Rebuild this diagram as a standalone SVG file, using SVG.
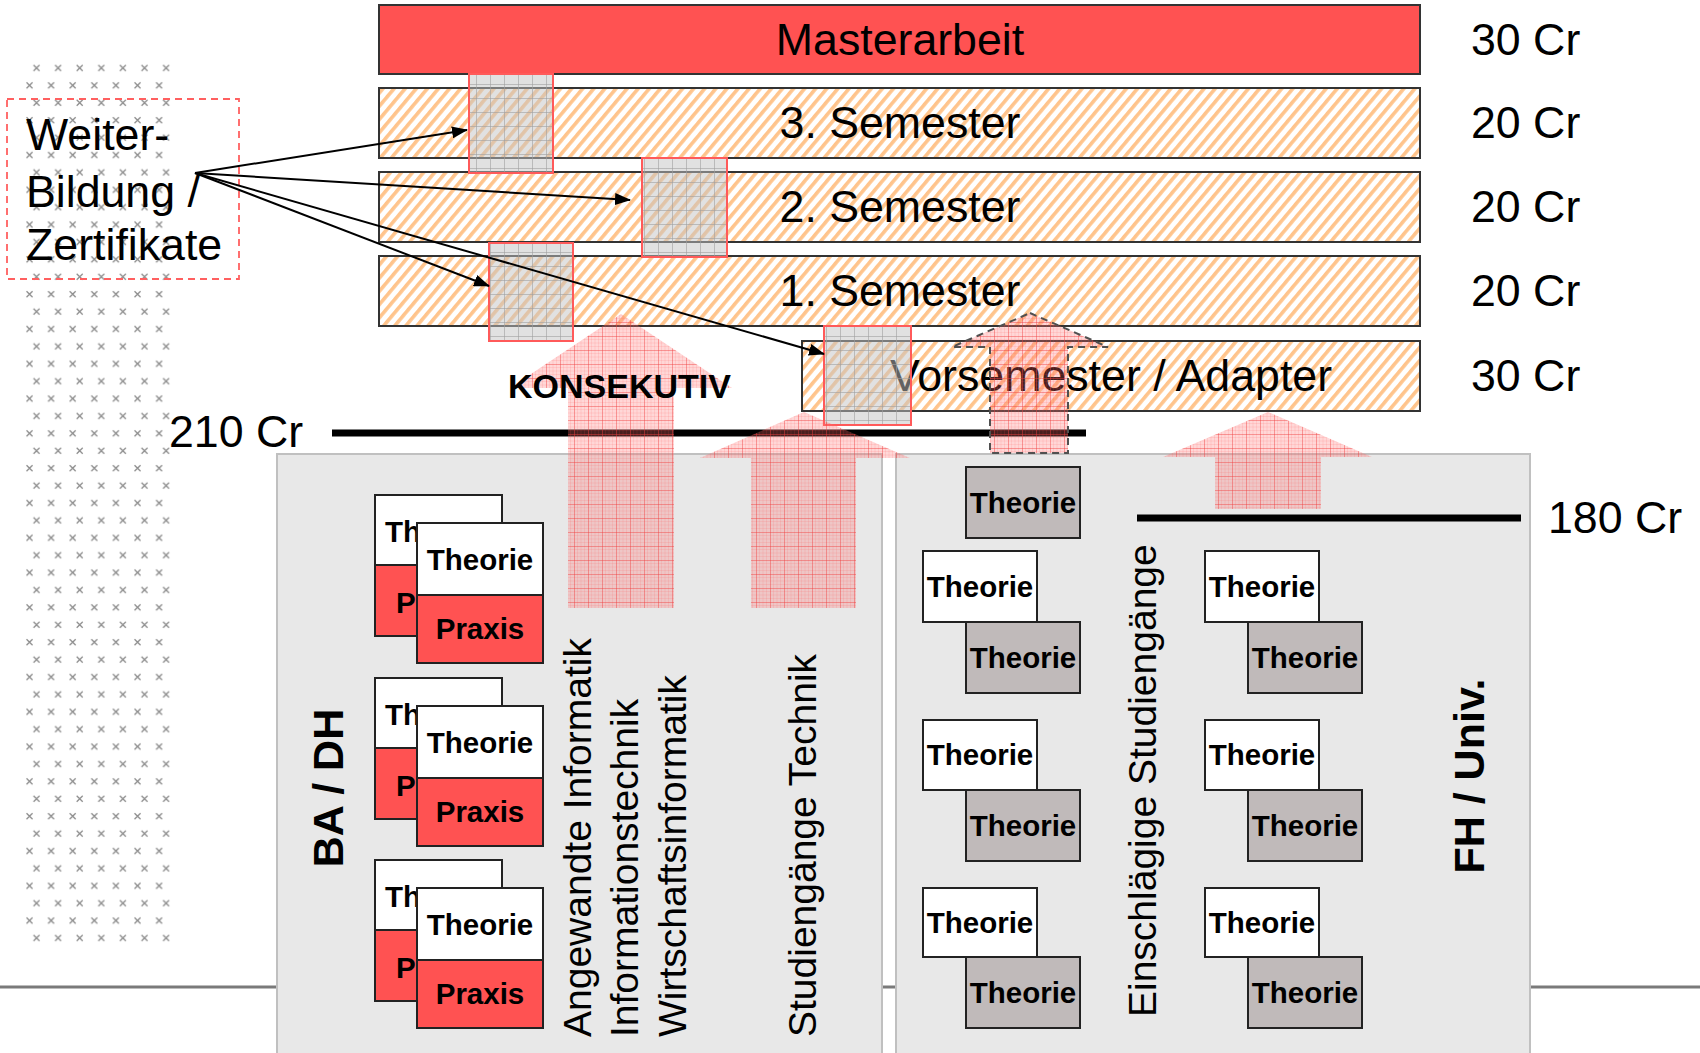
<svg xmlns="http://www.w3.org/2000/svg" width="1700" height="1053" viewBox="0 0 1700 1053">
<defs>
<style>
text{font-family:"Liberation Sans",Arial,sans-serif;fill:#000}
.big{font-size:44.7px}
.vt{font-size:39px}
.bold{font-weight:bold}
.card{font-size:29.5px;font-weight:bold;text-anchor:middle}
.cs{font-size:29.5px;font-weight:bold}
.bar{stroke:#333;stroke-width:2}
.sq{fill:url(#ggrid);stroke:#ff5a5a;stroke-width:2}
.conn{stroke:#000;stroke-width:2;fill:none;marker-end:url(#ah)}
.pink{fill:url(#pgrid)}
.wc{fill:#fff;stroke:#222;stroke-width:2}
.rc{fill:#ff5252;stroke:#222;stroke-width:2}
.gc{fill:#c0baba;stroke:#222;stroke-width:2}
</style>
<pattern id="hatch" patternUnits="userSpaceOnUse" width="8.5" height="8.5" patternTransform="rotate(40)">
<rect width="8.5" height="8.5" fill="#fff"/><rect width="3.6" height="8.5" fill="#ffc48c"/>
</pattern>
<pattern id="ggrid" patternUnits="userSpaceOnUse" width="14" height="14">
<rect width="14" height="14" fill="#c4c4c4" fill-opacity="0.5"/>
<path d="M0 0.5H14M0.5 0V14" stroke="#a0a0a0" stroke-width="1" stroke-opacity="0.6" fill="none"/>
</pattern>
<pattern id="pgrid" patternUnits="userSpaceOnUse" width="14" height="14">
<rect width="14" height="14" fill="#ff7070" fill-opacity="0.28"/>
<path d="M0 3.5H14M0 7H14M0 10.5H14M3.5 0V14M7 0V14M10.5 0V14" stroke="#ff5050" stroke-width="0.5" stroke-opacity="0.25" fill="none"/>
<path d="M0 0.5H14M0.5 0V14" stroke="#f04040" stroke-width="1" stroke-opacity="0.45" fill="none"/>
</pattern>
<pattern id="xs" patternUnits="userSpaceOnUse" x="25" y="59.3" width="21.6" height="34.8">
<path d="M8.5 5.7l6 6M14.5 5.7l-6 6M1.5 23.1l6 6M7.5 23.1l-6 6" stroke="#8c8c8c" stroke-width="1.3" fill="none"/>
</pattern>
<marker id="ah" markerUnits="userSpaceOnUse" markerWidth="16" markerHeight="12" refX="15" refY="6" orient="auto">
<path d="M0 0L16 6L0 12z" fill="#000"/>
</marker>
</defs>

<rect width="1700" height="1053" fill="#fff"/>

<g id="dot-column">
<rect x="25" y="60" width="148" height="885" fill="url(#xs)"/>
</g>

<line x1="0" y1="987" x2="1700" y2="987" stroke="#7a7a7a" stroke-width="3"/>

<g id="panel-ba-dh">
<rect x="277" y="454" width="605" height="610" fill="#e8e8e8" stroke="#c0c0c0" stroke-width="2"/>
<text class="bold" font-size="43" text-anchor="middle" transform="translate(343,788) rotate(-90)">BA / DH</text>
</g>
<g id="panel-fh-univ">
<rect x="896" y="454" width="634" height="610" fill="#e8e8e8" stroke="#c0c0c0" stroke-width="2"/>
<text class="bold" font-size="43" text-anchor="middle" transform="translate(1484,776) rotate(-90)">FH / Univ.</text>
</g>

<g id="ba-stack-1">
<rect class="wc" x="375" y="495" width="127" height="70"/><rect class="rc" x="375" y="565" width="127" height="71"/>
<text class="cs" x="385" y="542">Th</text><text class="cs" x="396" y="613">P</text>
<rect class="wc" x="417" y="523" width="126" height="72"/><rect class="rc" x="417" y="595" width="126" height="68"/>
<text class="card" x="480" y="570">Theorie</text><text class="card" x="480" y="639">Praxis</text>
</g>
<g id="ba-stack-2">
<rect class="wc" x="375" y="678" width="127" height="70"/><rect class="rc" x="375" y="748" width="127" height="71"/>
<text class="cs" x="385" y="725">Th</text><text class="cs" x="396" y="796">P</text>
<rect class="wc" x="417" y="706" width="126" height="72"/><rect class="rc" x="417" y="778" width="126" height="68"/>
<text class="card" x="480" y="753">Theorie</text><text class="card" x="480" y="822">Praxis</text>
</g>
<g id="ba-stack-3">
<rect class="wc" x="375" y="860" width="127" height="70"/><rect class="rc" x="375" y="930" width="127" height="71"/>
<text class="cs" x="385" y="907">Th</text><text class="cs" x="396" y="978">P</text>
<rect class="wc" x="417" y="888" width="126" height="72"/><rect class="rc" x="417" y="960" width="126" height="68"/>
<text class="card" x="480" y="935">Theorie</text><text class="card" x="480" y="1004">Praxis</text>
</g>

<g id="ba-labels">
<text class="vt" transform="translate(591,1037) rotate(-90)">Angewandte Informatik</text>
<text class="vt" transform="translate(638,1037) rotate(-90)">Informationstechnik</text>
<text class="vt" transform="translate(686,1037) rotate(-90)">Wirtschaftsinformatik</text>
<text class="vt" transform="translate(816,1037) rotate(-90)">Studiengänge Technik</text>
</g>

<g id="fh-top-card">
<rect class="gc" x="966" y="467" width="114" height="71"/><text class="card" x="1023" y="513">Theorie</text>
</g>
<g id="fh-left-1">
<rect class="wc" x="923" y="551" width="114" height="71"/><text class="card" x="980" y="597">Theorie</text>
<rect class="gc" x="966" y="622" width="114" height="71"/><text class="card" x="1023" y="668">Theorie</text>
</g>
<g id="fh-left-2">
<rect class="wc" x="923" y="720" width="114" height="70"/><text class="card" x="980" y="765">Theorie</text>
<rect class="gc" x="966" y="790" width="114" height="71"/><text class="card" x="1023" y="836">Theorie</text>
</g>
<g id="fh-left-3">
<rect class="wc" x="923" y="888" width="114" height="69"/><text class="card" x="980" y="933">Theorie</text>
<rect class="gc" x="966" y="957" width="114" height="71"/><text class="card" x="1023" y="1003">Theorie</text>
</g>
<g id="fh-right-1">
<rect class="wc" x="1205" y="551" width="114" height="71"/><text class="card" x="1262" y="597">Theorie</text>
<rect class="gc" x="1248" y="622" width="114" height="71"/><text class="card" x="1305" y="668">Theorie</text>
</g>
<g id="fh-right-2">
<rect class="wc" x="1205" y="720" width="114" height="70"/><text class="card" x="1262" y="765">Theorie</text>
<rect class="gc" x="1248" y="790" width="114" height="71"/><text class="card" x="1305" y="836">Theorie</text>
</g>
<g id="fh-right-3">
<rect class="wc" x="1205" y="888" width="114" height="69"/><text class="card" x="1262" y="933">Theorie</text>
<rect class="gc" x="1248" y="957" width="114" height="71"/><text class="card" x="1305" y="1003">Theorie</text>
</g>
<g id="fh-label">
<text class="vt" transform="translate(1156,1017) rotate(-90)">Einschlägige Studiengänge</text>
</g>

<g id="credit-lines">
<line x1="332" y1="433" x2="1086" y2="433" stroke="#000" stroke-width="7"/>
<text class="big" x="169" y="447">210 Cr</text>
<line x1="1137" y1="518" x2="1521" y2="518" stroke="#000" stroke-width="7"/>
<text class="big" x="1548" y="533">180 Cr</text>
</g>

<g id="masterarbeit">
<rect class="bar" x="379" y="5" width="1041" height="69" fill="#ff5252"/>
<text class="big" x="900" y="55" text-anchor="middle">Masterarbeit</text>
<text class="big" x="1471" y="55">30 Cr</text>
</g>
<g id="semester-3">
<rect class="bar" x="379" y="88" width="1041" height="70" fill="url(#hatch)"/>
<text class="big" x="900" y="138" text-anchor="middle">3. Semester</text>
<text class="big" x="1471" y="138">20 Cr</text>
</g>
<g id="semester-2">
<rect class="bar" x="379" y="172" width="1041" height="70" fill="url(#hatch)"/>
<text class="big" x="900" y="222" text-anchor="middle">2. Semester</text>
<text class="big" x="1471" y="222">20 Cr</text>
</g>
<g id="semester-1">
<rect class="bar" x="379" y="256" width="1041" height="70" fill="url(#hatch)"/>
<text class="big" x="900" y="306" text-anchor="middle">1. Semester</text>
<text class="big" x="1471" y="306">20 Cr</text>
</g>
<g id="vorsemester">
<rect class="bar" x="802" y="341" width="618" height="70" fill="url(#hatch)"/>
<text class="big" x="1111" y="391" text-anchor="middle">Vorsemester / Adapter</text>
<text class="big" x="1471" y="391">30 Cr</text>
</g>

<g id="modules">
<rect class="sq" x="469" y="74" width="84" height="99"/>
<rect class="sq" x="642" y="158" width="85" height="99"/>
<rect class="sq" x="489" y="243" width="84" height="98"/>
<rect class="sq" x="824" y="326" width="87" height="99"/>
</g>

<g id="weiterbildung">
<rect x="7" y="99" width="232" height="180" fill="none" stroke="#ff6060" stroke-width="1.8" stroke-dasharray="7 5"/>
<text class="big" x="26" y="150">Weiter-</text>
<text class="big" x="26" y="207">Bildung /</text>
<text class="big" x="26" y="260">Zertifikate</text>
</g>

<g id="connectors">
<line class="conn" x1="195" y1="173" x2="467" y2="130"/>
<line class="conn" x1="195" y1="173" x2="630" y2="200"/>
<line class="conn" x1="195" y1="173" x2="489" y2="286"/>
<line class="conn" x1="195" y1="173" x2="824" y2="354"/>
</g>

<g id="flow-arrows">
<polygon class="pink" points="621,314 732,388 674,388 674,608 568,608 568,388 510,388"/>
<polygon class="pink" points="804,412 910,458 856,458 856,608 751,608 751,458 700,458"/>
<polygon class="pink" points="1030,313 1108,347 1068,347 1068,453 990,453 990,347 952,347" stroke="#505050" stroke-width="2" stroke-dasharray="7 5"/>
<polygon class="pink" points="1268,412 1372,457 1321,457 1321,509 1215,509 1215,457 1163,457"/>
</g>

<g id="konsekutiv">
<text class="bold" font-size="34" x="508" y="398">KONSEKUTIV</text>
</g>
</svg>
